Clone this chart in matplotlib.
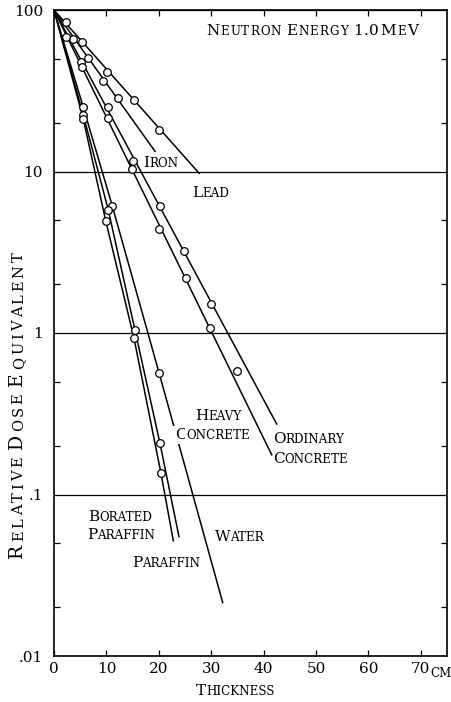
import matplotlib
matplotlib.use("Agg")
import matplotlib.pyplot as plt
from matplotlib.ticker import FixedLocator, NullFormatter

plt.rcParams['font.family'] = ['DejaVu Serif']

# values: thickness (cm) vs relative dose equivalent
lead_x = [2.3, 5.3, 10.2, 15.3, 20.0]
lead_y = [84, 63.6, 41.4, 27.6, 18.0]
lead_lx = [0, 27.7]
lead_ly = [100, 9.75]

iron_x = [3.6, 6.4, 9.4, 12.3]
iron_y = [66.1, 50.7, 36.3, 28.4]
iron_lx = [0, 19.3]
iron_ly = [100, 13.3]

ordc_x = [2.3, 5.15, 10.36, 15.13, 20.23, 24.87, 29.96]
ordc_y = [67.8, 47.5, 25.2, 11.6, 6.11, 3.23, 1.51]
ordc_lx = [0, 42.5]
ordc_ly = [100, 0.273]

heavy_x = [5.4, 10.36, 14.83, 20.04, 25.13, 29.77, 34.87]
heavy_y = [44.2, 21.4, 10.3, 4.41, 2.18, 1.08, 0.582]
heavy_lx = [0, 41.55]
heavy_ly = [100, 0.176]

water_x = [5.59, 11.13, 20.04]
water_y = [25.0, 6.11, 0.568]
water_lx = [0, 5.59, 11.13, 20.04, 32.2]
water_ly = [100, 25.0, 6.11, 0.568, 0.0214]

paraffin_x = [5.59, 10.36, 15.46, 20.23]
paraffin_y = [22.4, 5.78, 1.04, 0.207]
paraffin_lx = [0, 5.59, 10.36, 15.46, 20.23, 23.85]
paraffin_ly = [100, 22.4, 5.78, 1.04, 0.207, 0.0548]

borated_x = [5.59, 9.87, 15.27, 20.42]
borated_y = [21.1, 4.96, 0.927, 0.135]
borated_lx = [0, 5.59, 9.87, 15.27, 20.42, 22.77]
borated_ly = [100, 21.1, 4.96, 0.927, 0.135, 0.0517]

x_ticks = [0, 10, 20, 30, 40, 50, 60, 70]
y_ticks = [0.01, 0.1, 1, 10, 100]
y_labels = ['.01', '.1', '1', '10', '100']
y_minor = [0.02, 0.05, 0.2, 0.5, 2, 5, 20, 50]

# curve labels: text, x (cm), y (dose) of the baseline start
curve_labels = [
    ("Iron", 17.0, 10.7),
    ("Lead", 26.3, 6.95),
    ("Heavy", 26.9, 0.289),
    ("Ordinary", 41.8, 0.208),
    ("Concrete", 41.8, 0.157),
    ("Borated", 6.5, 0.0686),
    ("Paraffin", 6.3, 0.053),
    ("Water", 30.7, 0.0515),
    ("Paraffin", 14.9, 0.0356),
]

FS = 11
SMALL = 0.78


def small_caps(ax, x, y, s, size=FS, rotation=0, transform=None, spacing=0, **kw):
    # lower-case letters are drawn as smaller capitals, chained piece by piece
    if transform is None:
        transform = ax.transData
    pieces = []
    for ch in s:
        small = ch.islower() or (ch == ' ' and pieces and pieces[-1][1])
        if ch == ' ' and pieces:
            pieces[-1][0] += ch
        elif pieces and pieces[-1][1] == small and not spacing:
            pieces[-1][0] += ch
        else:
            pieces.append([ch, small])
    prev = None
    for chunk, small in pieces:
        fs = size * SMALL if small else size
        if prev is None:
            if rotation == 90:
                prev = ax.text(x, y, chunk.upper(), fontsize=fs, rotation=90,
                               ha='right', va='bottom', transform=transform, **kw)
            else:
                prev = ax.text(x, y, chunk.upper(), fontsize=fs, ha='left',
                               va='baseline', transform=transform, **kw)
        else:
            if rotation == 90:
                xy, ha, off = (1, 1), 'right', (0, spacing)
            else:
                xy, ha, off = (1, 0), 'left', (spacing, 0)
            prev = ax.annotate(chunk.upper(), xy=xy, xycoords=prev, xytext=off,
                               textcoords='offset points', fontsize=fs,
                               rotation=rotation, ha=ha, va='bottom', **kw)
    return prev


fig = plt.figure(figsize=(4.52, 7.02), dpi=100)
ax = fig.add_axes([54 / 452, 1 - 656 / 702, 393 / 452, 646 / 702])
ax.set_yscale('log')
ax.set_xlim(0, 75)
ax.set_ylim(0.01, 100)

series = [
    (lead_x, lead_y, lead_lx, lead_ly),
    (iron_x, iron_y, iron_lx, iron_ly),
    (ordc_x, ordc_y, ordc_lx, ordc_ly),
    (heavy_x, heavy_y, heavy_lx, heavy_ly),
    (water_x, water_y, water_lx, water_ly),
    (paraffin_x, paraffin_y, paraffin_lx, paraffin_ly),
    (borated_x, borated_y, borated_lx, borated_ly),
]
for mx, my, lx, ly in series:
    ax.plot(lx, ly, color='black', lw=1.1, zorder=2)
    ax.plot(mx, my, 'o', ms=5.5, mfc='white', mec='black', mew=0.9, zorder=3)

ax.set_xticks(x_ticks)
ax.set_xticklabels([str(t) for t in x_ticks], fontsize=FS)
ax.set_yticks(y_ticks)
ax.set_yticklabels(y_labels, fontsize=FS)
ax.yaxis.set_minor_locator(FixedLocator(y_minor))
ax.yaxis.set_minor_formatter(NullFormatter())
ax.grid(axis='y', which='major', color='black', lw=0.9)
ax.tick_params(axis='y', which='major', length=0, pad=8)
ax.tick_params(axis='y', which='minor', direction='in', length=4,
               left=True, right=True, width=0.9)
ax.tick_params(axis='x', which='major', direction='in', length=4.5,
               top=True, bottom=True, pad=4, width=0.9)
ax.tick_params(axis='x', which='minor', bottom=False, top=False)
for sp in ax.spines.values():
    sp.set_linewidth(1.2)

small_caps(ax, 29.0, 70.0, "Neutron Energy 1.0MeV", spacing=0.75)
for text, lx, ly in curve_labels:
    small_caps(ax, lx, ly, text)

# heavy concrete label breaks the water line
small_caps(ax, 23.1, 0.221, "Concrete",
           bbox=dict(fc='white', ec='none', pad=1.5))

small_caps(ax, 196 / 452, 1 - 695 / 702, "Thickness", transform=fig.transFigure)
small_caps(ax, 430 / 452, 1 - 677 / 702, "cm", transform=fig.transFigure)
small_caps(ax, 26 / 452, 1 - 558 / 702, "Relative Dose Equivalent", size=13.5,
           rotation=90, transform=fig.transFigure, spacing=2)

fig.savefig("out.png", dpi=100)
